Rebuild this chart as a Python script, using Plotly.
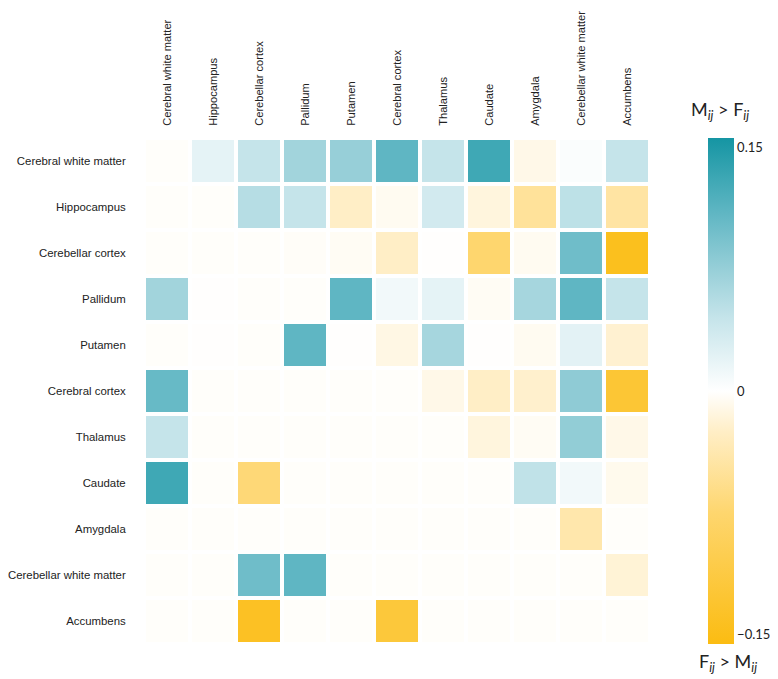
import plotly.graph_objects as go

regions = ["Cerebral white matter", "Hippocampus", "Cerebellar cortex", "Pallidum",
           "Putamen", "Cerebral cortex", "Thalamus", "Caudate", "Amygdala",
           "Cerebellar white matter", "Accumbens"]

# Difference M_ij - F_ij, one row per region
row_cerebral_wm   = [-0.002, 0.020, 0.045, 0.068, 0.075, 0.110, 0.045, 0.130, -0.010, 0.004, 0.045]
row_hippocampus   = [-0.002, -0.002, 0.055, 0.045, -0.025, -0.006, 0.035, -0.015, -0.050, 0.050, -0.045]
row_cerebellar_cx = [-0.002, -0.002, -0.002, -0.003, -0.005, -0.025, -0.001, -0.075, -0.006, 0.100, -0.145]
row_pallidum      = [0.068, -0.001, -0.002, -0.002, 0.110, 0.010, 0.020, -0.005, 0.065, 0.110, 0.045]
row_putamen       = [-0.002, -0.001, -0.002, 0.110, -0.001, -0.012, 0.065, -0.001, -0.006, 0.022, -0.020]
row_cerebral_cx   = [0.105, -0.002, -0.002, -0.002, -0.002, -0.002, -0.010, -0.025, -0.022, 0.080, -0.125]
row_thalamus      = [0.045, -0.002, -0.002, -0.002, -0.002, -0.002, -0.002, -0.015, -0.005, 0.078, -0.010]
row_caudate       = [0.130, -0.002, -0.070, -0.002, -0.002, -0.002, -0.002, -0.002, 0.048, 0.010, -0.008]
row_amygdala      = [-0.002, -0.002, -0.002, -0.002, -0.002, -0.002, -0.002, -0.002, -0.002, -0.040, -0.002]
row_cerebellar_wm = [-0.002, -0.002, 0.100, 0.110, -0.002, -0.002, -0.002, -0.002, -0.002, -0.002, -0.018]
row_accumbens     = [-0.002, -0.002, -0.140, -0.002, -0.002, -0.120, -0.002, -0.002, -0.002, -0.002, -0.002]

z = [row_cerebral_wm, row_hippocampus, row_cerebellar_cx, row_pallidum, row_putamen,
     row_cerebral_cx, row_thalamus, row_caudate, row_amygdala, row_cerebellar_wm, row_accumbens]

cbar_ticks = [-0.15, 0, 0.15]
cbar_ticktext = ["\u22120.15", "0", "0.15"]

R = 0.156
def pos(v):
    return (v + R) / (2 * R)

colorscale = [
    [0.0, "#fbbc12"],
    [pos(-0.075), "#fed66e"],
    [pos(-0.025), "#ffeec6"],
    [0.5, "#ffffff"],
    [pos(0.045), "#c5e4ea"],
    [pos(0.075), "#97cfd8"],
    [pos(0.11), "#5fb6c3"],
    [pos(0.13), "#3fa8b5"],
    [1.0, "#1595a3"],
]

OFF = 8  # page body margin
FW, FH = 778 - OFF, 679 - OFF
L, T, W, H = 144 - OFF, 138 - OFF, 506, 506

fig = go.Figure(go.Heatmap(
    z=z, x=regions, y=regions,
    zmin=-R, zmax=R, colorscale=colorscale,
    xgap=4, ygap=4,
    colorbar=dict(
        x=(708 - OFF - L) / W, xanchor="left",
        y=1.0, yanchor="top",
        len=1.0, lenmode="fraction", thickness=26, thicknessmode="pixels",
        outlinewidth=0, ticks="", tickvals=cbar_ticks, ticktext=cbar_ticktext,
        tickfont=dict(family="Lato", size=13, color="#222"),
        ypad=0, xpad=0, ticklabelposition="outside",
    ),
))

x_font = dict(family="Liberation Sans, Arial", size=11.1, color="#222")
y_font = dict(family="Liberation Sans, Arial", size=11.4, color="#222")
fig.update_xaxes(side="top", tickangle=-90, showgrid=False, zeroline=False, showline=False,
                 ticks="outside", ticklen=9, tickcolor="rgba(0,0,0,0)", tickfont=x_font,
                 automargin=False)
fig.update_yaxes(autorange="reversed", showgrid=False, zeroline=False, showline=False,
                 ticks="outside", ticklen=15, tickcolor="rgba(0,0,0,0)", tickfont=y_font,
                 automargin=False)

title_font = dict(family="Lato", size=18, color="#222")
fig.add_annotation(text="M<sub><i>ij</i></sub> > F<sub><i>ij</i></sub>", xref="paper", yref="paper",
                   x=(720 - OFF - L) / W, y=(T + H - (110 - OFF)) / H, showarrow=False, font=title_font,
                   xanchor="center", yanchor="middle")
fig.add_annotation(text="F<sub><i>ij</i></sub> > M<sub><i>ij</i></sub>", xref="paper", yref="paper",
                   x=(728 - OFF - L) / W, y=(T + H - (662 - OFF)) / H, showarrow=False, font=title_font,
                   xanchor="center", yanchor="middle")

fig.update_layout(
    width=FW, height=FH,
    margin=dict(l=L, r=FW - L - W, t=T, b=FH - T - H, autoexpand=False),
    plot_bgcolor="white", paper_bgcolor="white",
)

fig.write_html("out.html")
